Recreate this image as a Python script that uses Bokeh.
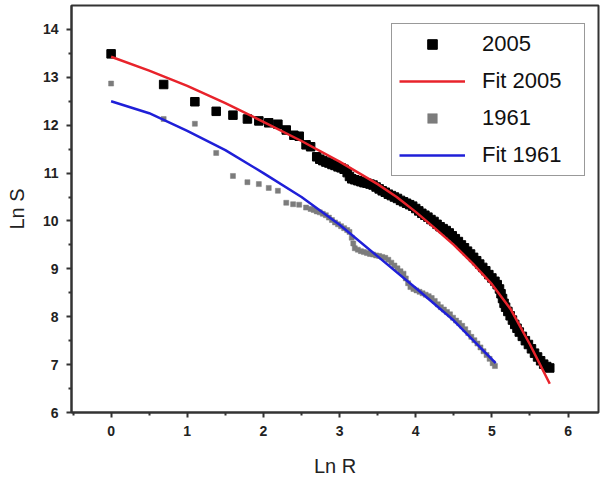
from bokeh.plotting import figure
from bokeh.models import Range1d, Legend, LegendItem, FixedTicker
from bokeh.embed import file_html
from bokeh.resources import INLINE

# ---- data ----
x2005 = [0.00, 0.69, 1.10, 1.38, 1.60, 1.79, 1.94, 2.07, 2.19, 2.30, 2.40, 2.47, 2.56, 2.62,
         2.70, 2.74, 2.78, 2.82, 2.86, 2.90, 2.94, 2.98, 3.02, 3.06, 3.10, 3.13, 3.16, 3.20,
         3.24, 3.28, 3.32, 3.36, 3.40, 3.44, 3.48, 3.52, 3.56, 3.60, 3.64, 3.68, 3.72, 3.76,
         3.80, 3.84, 3.88, 3.92, 3.96, 4.00, 4.04, 4.08, 4.12, 4.16, 4.20, 4.24, 4.28, 4.32,
         4.36, 4.40, 4.44, 4.48, 4.52, 4.56, 4.60, 4.64, 4.68, 4.72, 4.76, 4.80, 4.84, 4.88,
         4.92, 4.96, 5.00, 5.04, 5.07, 5.10, 5.12, 5.14, 5.16, 5.18, 5.21, 5.24, 5.27, 5.30,
         5.33, 5.36, 5.40, 5.44, 5.48, 5.52, 5.56, 5.60, 5.64, 5.68, 5.72, 5.76]
y2005 = [13.49, 12.85, 12.49, 12.29, 12.21, 12.13, 12.09, 12.05, 12.02, 11.90, 11.79, 11.77, 11.59, 11.55,
         11.34, 11.29, 11.26, 11.23, 11.21, 11.18, 11.16, 11.13, 11.11, 11.08, 11.01, 10.93, 10.88, 10.86,
         10.84, 10.82, 10.80, 10.79, 10.77, 10.75, 10.71, 10.67, 10.63, 10.60, 10.56, 10.53, 10.50, 10.47,
         10.43, 10.40, 10.37, 10.34, 10.31, 10.26, 10.21, 10.16, 10.12, 10.08, 10.03, 9.99, 9.93, 9.88,
         9.84, 9.80, 9.75, 9.69, 9.63, 9.57, 9.50, 9.44, 9.37, 9.31, 9.24, 9.17, 9.10, 9.03,
         8.96, 8.88, 8.81, 8.74, 8.67, 8.58, 8.48, 8.38, 8.28, 8.20, 8.11, 8.02, 7.93, 7.84,
         7.76, 7.68, 7.59, 7.50, 7.42, 7.33, 7.24, 7.16, 7.08, 7.01, 6.96, 6.93]

x1961 = [0.00, 0.69, 1.10, 1.38, 1.60, 1.79, 1.94, 2.07, 2.19, 2.30, 2.39, 2.47, 2.56,
         2.62, 2.66, 2.70, 2.74, 2.78, 2.82, 2.86, 2.90, 2.94, 2.98, 3.02, 3.06, 3.10, 3.13,
         3.16, 3.18, 3.20, 3.24, 3.28, 3.32, 3.36, 3.40, 3.44, 3.48, 3.52, 3.56, 3.60, 3.64,
         3.68, 3.72, 3.76, 3.80, 3.84, 3.87, 3.90, 3.93, 3.97, 4.01, 4.05, 4.09, 4.13, 4.17,
         4.21, 4.25, 4.29, 4.33, 4.37, 4.41, 4.45, 4.49, 4.53, 4.57, 4.61, 4.65, 4.69, 4.73,
         4.77, 4.81, 4.85, 4.89, 4.93, 4.97, 5.01, 5.04]
y1961 = [12.87, 12.13, 12.03, 11.42, 10.94, 10.81, 10.77, 10.69, 10.63, 10.38, 10.35, 10.34, 10.28,
         10.25, 10.23, 10.20, 10.18, 10.15, 10.12, 10.07, 10.02, 9.97, 9.93, 9.89, 9.85, 9.81, 9.77,
         9.65, 9.53, 9.43, 9.40, 9.37, 9.35, 9.33, 9.31, 9.30, 9.28, 9.27, 9.25, 9.23, 9.19,
         9.13, 9.07, 9.01, 8.95, 8.90, 8.80, 8.70, 8.62, 8.58, 8.55, 8.52, 8.49, 8.46, 8.43,
         8.39, 8.33, 8.26, 8.20, 8.15, 8.10, 8.05, 7.98, 7.92, 7.87, 7.81, 7.74, 7.66, 7.58,
         7.51, 7.44, 7.36, 7.28, 7.20, 7.12, 7.03, 6.97]

fit2005_x = [0.0, 0.5, 1.0, 1.5, 2.0, 2.5, 3.0, 3.5, 3.75, 4.0, 4.25, 4.5, 4.75, 5.0, 5.25, 5.5, 5.76]
fit2005_y = [13.43, 13.14, 12.82, 12.46, 12.07, 11.67, 11.24, 10.77, 10.50, 10.19, 9.85, 9.50, 9.11, 8.68, 8.15, 7.42, 6.60]

fit1961_x = [0.0, 0.5, 1.0, 1.5, 2.0, 2.5, 3.0, 3.5, 4.0, 4.5, 5.05]
fit1961_y = [12.50, 12.25, 11.88, 11.48, 11.00, 10.50, 9.92, 9.26, 8.60, 7.92, 7.03]

x_ticks = [0, 1, 2, 3, 4, 5, 6]
x_minor = [-0.5, 0.5, 1.5, 2.5, 3.5, 4.5, 5.5]
y_ticks = [6, 7, 8, 9, 10, 11, 12, 13, 14]
y_minor = [6.5, 7.5, 8.5, 9.5, 10.5, 11.5, 12.5, 13.5]

FONT = "Liberation Sans"
AX = "#333333"

p = figure(width=601, height=480, output_backend="svg", toolbar_location=None,
           x_range=Range1d(-0.52, 6.40), y_range=Range1d(6, 14.5),
           min_border_left=71, min_border_right=3, min_border_top=5, min_border_bottom=68)
p.background_fill_color = "white"
p.border_fill_color = "white"
p.xgrid.visible = False
p.ygrid.visible = False
p.outline_line_color = AX
p.outline_line_width = 2

for ax, ticks, minor in ((p.xaxis[0], x_ticks, x_minor), (p.yaxis[0], y_ticks, y_minor)):
    ax.ticker = FixedTicker(ticks=ticks, minor_ticks=minor)
    ax.axis_line_color = AX
    ax.axis_line_width = 2
    ax.major_tick_line_color = AX
    ax.major_tick_line_width = 2
    ax.major_tick_out = 5
    ax.major_tick_in = 0
    ax.minor_tick_line_color = AX
    ax.minor_tick_line_width = 2
    ax.minor_tick_out = 3
    ax.minor_tick_in = 0
    ax.major_label_text_font = FONT
    ax.major_label_text_font_size = "14px"
    ax.major_label_text_font_style = "bold"
    ax.major_label_text_color = "#222222"
    ax.major_label_standoff = 8
    ax.axis_label_text_font = FONT
    ax.axis_label_text_font_size = "20px"
    ax.axis_label_text_font_style = "normal"
    ax.axis_label_text_color = "#222222"

p.xaxis.axis_label = "Ln R"
p.yaxis.axis_label = "Ln S"
p.xaxis.axis_label_standoff = 16
p.yaxis.axis_label_standoff = 12

r61 = p.scatter(x1961, y1961, marker="square", size=5, fill_color="#7c7c7c", line_color="#7c7c7c", line_width=0.5)
rf61 = p.line(fit1961_x, fit1961_y, line_color="#1f1fd8", line_width=2.5)
r05 = p.scatter(x2005, y2005, marker="square", size=8.5, fill_color="black", line_color="black")
rf05 = p.line(fit2005_x, fit2005_y, line_color="#e8232b", line_width=2.5)

legend = Legend(items=[
    LegendItem(label="2005", renderers=[r05]),
    LegendItem(label="Fit 2005", renderers=[rf05]),
    LegendItem(label="1961", renderers=[r61]),
    LegendItem(label="Fit 1961", renderers=[rf61]),
], location=(320, 236))
legend.border_line_color = AX
legend.border_line_width = 1.5
legend.background_fill_color = "white"
legend.background_fill_alpha = 1
legend.label_text_font = FONT
legend.label_text_font_size = "22px"
legend.label_text_color = "#111111"
legend.glyph_width = 66
legend.glyph_height = 24
legend.label_height = 24
legend.label_width = 95
legend.label_standoff = 17
legend.spacing = 11
legend.padding = 7
legend.margin = 0
p.add_layout(legend)

open("out.html", "w").write(file_html(p, INLINE))
